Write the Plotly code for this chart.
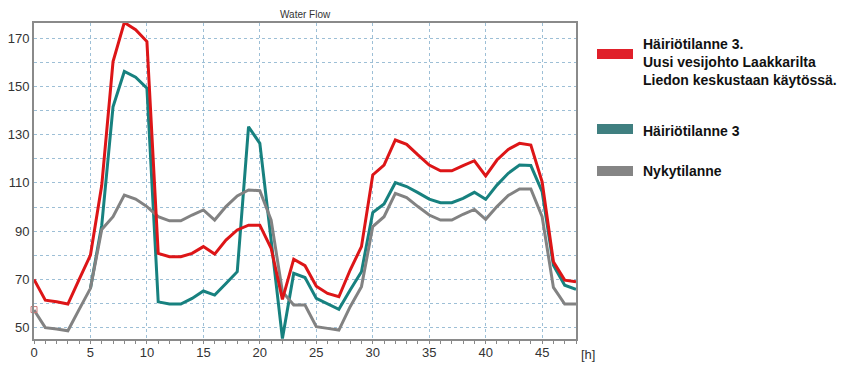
import plotly.graph_objects as go

hours = list(range(49))

red_vals = [70.0, 61.4, 60.7, 59.8, 70.0, 80.1, 109.0, 160.3, 176.5, 173.5,
            168.6, 80.8, 79.4, 79.4, 80.8, 83.6, 80.5, 86.3, 90.5, 92.5,
            92.5, 82.9, 61.7, 78.4, 75.7, 67.2, 64.2, 62.8, 73.9, 83.6,
            113.3, 117.4, 127.8, 126.0, 121.6, 117.4, 115.0, 115.0, 117.2, 119.2,
            112.9, 119.5, 123.9, 126.4, 125.7, 110.5, 77.3, 69.7, 69.0]

teal_vals = [None, None, None, None, None, 66.3, 92.5, 141.6, 156.2, 153.8,
             149.3, 60.7, 59.8, 59.8, 62.1, 65.2, 63.5, 68.3, 73.2, 133.3,
             126.4, 86.3, 45.5, 72.5, 70.8, 62.1, 59.8, 57.6, 65.6, 73.2,
             97.7, 101.3, 110.1, 108.5, 106.0, 103.3, 101.8, 101.8, 103.6, 106.1,
             103.2, 109.1, 114.0, 117.4, 117.2, 106.4, 75.9, 67.6, 65.9]

gray_vals = [57.3, 50.0, 49.4, 48.7, 57.6, 66.3, 90.7, 96.0, 105.0, 103.3,
             100.2, 96.0, 94.3, 94.3, 96.7, 98.8, 94.6, 100.2, 104.6, 107.1,
             106.8, 94.6, 64.9, 59.4, 59.4, 50.4, 49.7, 49.0, 58.7, 67.0,
             91.9, 96.0, 105.7, 103.9, 100.2, 96.7, 94.6, 94.6, 97.0, 99.0,
             94.9, 100.2, 104.8, 107.5, 107.5, 96.0, 66.7, 59.8, 59.8]

marker_x = [0]
marker_y = [57.5]

x_ticks = [0, 5, 10, 15, 20, 25, 30, 35, 40, 45]
y_ticks = [50, 70, 90, 110, 130, 150, 170]

legend_labels = ["Häiriötilanne 3.<br>Uusi vesijohto Laakkarilta<br>Liedon keskustaan käytössä.",
                 "Häiriötilanne 3",
                 "Nykytilanne"]

RED = "#dd1517"
TEAL = "#17817f"
GRAY = "#828282"
SWATCH = ["#e0202a", "#3f7f80", "#858585"]

fig = go.Figure()
fig.add_trace(go.Scatter(x=hours, y=teal_vals, mode="lines",
                         line=dict(color=TEAL, width=3), showlegend=False))
fig.add_trace(go.Scatter(x=hours, y=gray_vals, mode="lines",
                         line=dict(color=GRAY, width=3), showlegend=False))
fig.add_trace(go.Scatter(x=hours, y=red_vals, mode="lines",
                         line=dict(color=RED, width=3), showlegend=False))
fig.add_trace(go.Scatter(x=marker_x, y=marker_y, mode="markers",
                         marker=dict(symbol="square-open", size=6, color="#c77"),
                         showlegend=False, cliponaxis=False))

grid = dict(showgrid=True, gridcolor="#9dbfd6", griddash="dot", gridwidth=1)

# page body has an 8px margin, so the figure is sized/offset to compensate
fig.update_layout(
    width=844, height=365,
    margin=dict(l=26, r=276, t=15, b=34),
    paper_bgcolor="white", plot_bgcolor="white",
    font=dict(family="Arial, Liberation Sans, sans-serif", color="#333"),
    xaxis=dict(range=[0, 48], tickvals=x_ticks, ticks="", showline=True,
               linecolor="#8a8a8a", linewidth=2, mirror=True, automargin=False,
               tickfont=dict(size=13, color="#333"), zeroline=False,
               minor=dict(dtick=1, ticks="outside", ticklen=3, tickcolor="#888", showgrid=False),
               **grid),
    yaxis=dict(range=[45.3, 176.3], tickvals=y_ticks, ticks="", showline=True,
               linecolor="#8a8a8a", linewidth=2, mirror=True, automargin=False,
               tickfont=dict(size=13, color="#333"), zeroline=False,
               minor=dict(dtick=10, ticks="", showgrid=True, gridcolor="#9dbfd6", griddash="dot"),
               **grid),
)

fig.add_annotation(text="Water Flow", x=0.5, y=1.0, xref="paper", yref="paper",
                   xanchor="center", yanchor="bottom", yshift=1, showarrow=False,
                   font=dict(size=10, color="#333"))
fig.add_annotation(text="[h]", x=1.0, y=0, xref="paper", yref="paper",
                   xanchor="left", yanchor="top", xshift=3, yshift=-6, showarrow=False,
                   font=dict(size=13, color="#333"))

# custom legend at right (window pixel positions converted to paper coordinates)
sw_y = [54, 129, 171]
txt_y = [62, 131, 171]
for i in range(3):
    yc = sw_y[i]
    fig.add_shape(type="rect", xref="paper", yref="paper",
                  x0=(597 - 34) / 542, x1=(633 - 34) / 542,
                  y0=(339 - (yc + 5)) / 316, y1=(339 - (yc - 5)) / 316,
                  line=dict(width=0), fillcolor=SWATCH[i])
    fig.add_annotation(text="<b>" + legend_labels[i] + "</b>", xref="paper", yref="paper",
                       x=(641 - 34) / 542, y=(339 - txt_y[i]) / 316,
                       xanchor="left", yanchor="middle", align="left", showarrow=False,
                       font=dict(size=14, color="#111", family="Arial, Liberation Sans, sans-serif"))

fig.write_html("out.html")
